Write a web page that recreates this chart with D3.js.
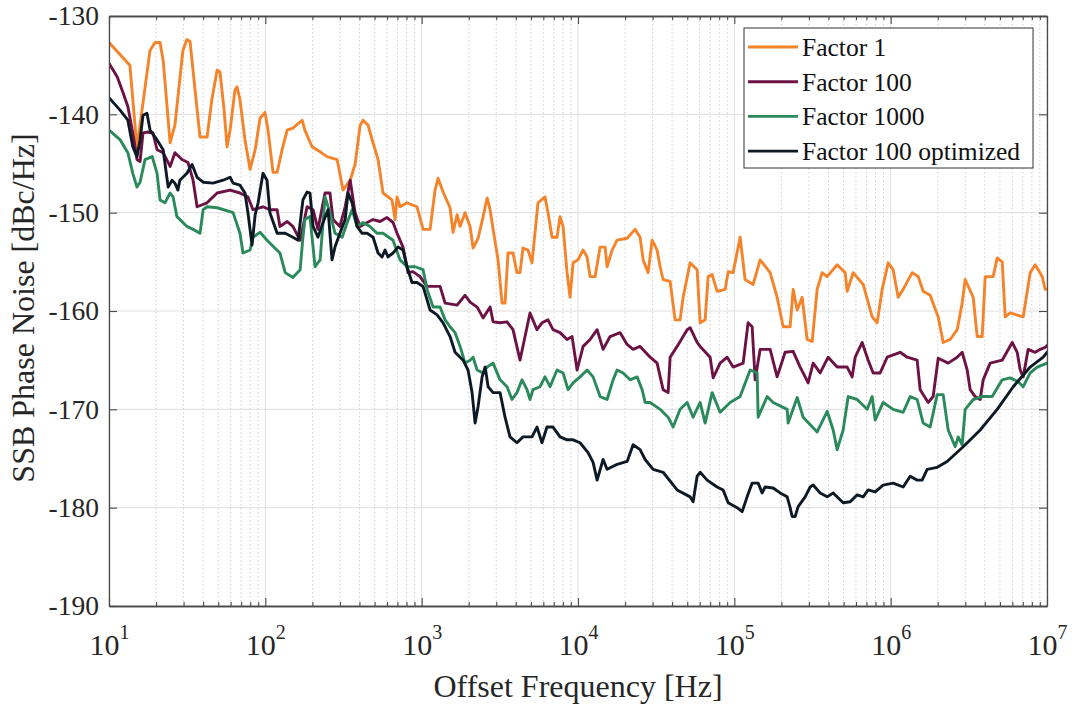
<!DOCTYPE html>
<html><head><meta charset="utf-8">
<script src="https://cdn.jsdelivr.net/npm/d3@7"></script>
<style>body{margin:0;background:#fff}svg{display:block}</style>
</head><body>
<svg id="c" width="1074" height="706"></svg>
<script>
// ---- data (offset frequency [Hz], SSB phase noise [dBc/Hz]) ----
const seriesNames = ["Factor 1", "Factor 100", "Factor 1000", "Factor 100 optimized"];
const seriesColors = ["#f5832a", "#6c1244", "#2b8a5b", "#0d1a26"];
const xTickExponents = [1, 2, 3, 4, 5, 6, 7];
const yTickValues = [-190, -180, -170, -160, -150, -140, -130];

const factor1 = [[10,-132.7],[13.6,-135.0],[15.1,-143.4],[18.3,-133.5],[19.7,-132.7],[21.2,-132.7],[22.2,-134.5],[24.6,-142.9],[26.4,-141.1],[29.7,-133.5],[31.5,-132.4],[33.0,-132.6],[35.5,-137.5],[38.2,-142.3],[42.4,-142.3],[45.5,-138.5],[49.2,-135.5],[51.3,-135.7],[54.5,-139.6],[56.9,-143.3],[59.5,-141.6],[64.0,-137.5],[65.9,-137.2],[68.8,-138.5],[74.1,-142.6],[79.9,-145.6],[86.1,-143.6],[92.5,-140.4],[99.6,-139.8],[104,-141.6],[112,-145.9],[119,-145.9],[128,-143.6],[138,-141.6],[150,-141.4],[172,-140.6],[179,-141.6],[199,-143.3],[224,-143.8],[248,-144.3],[288,-144.6],[314,-147.7],[349,-146.7],[375,-145.1],[404,-141.1],[422,-140.6],[454,-141.1],[489,-142.9],[526,-144.6],[566,-148.0],[646,-148.7],[676,-150.7],[696,-148.4],[727,-149.4],[806,-149.0],[934,-149.4],[1021,-151.7],[1132,-151.7],[1218,-147.7],[1273,-146.5],[1371,-147.9],[1519,-149.5],[1588,-152.0],[1685,-150.2],[1761,-151.4],[1895,-150.0],[2040,-151.4],[2133,-153.6],[2296,-152.6],[2473,-150.4],[2622,-148.5],[2741,-149.7],[2864,-151.7],[3081,-154.8],[3267,-159.2],[3414,-159.2],[3568,-154.1],[3839,-154.1],[4069,-156.1],[4257,-156.1],[4449,-153.6],[4788,-153.8],[5077,-155.1],[5306,-152.1],[5546,-149.0],[6152,-148.4],[6430,-150.0],[6820,-152.5],[7342,-152.5],[7676,-150.4],[8025,-151.4],[8512,-156.1],[8897,-158.6],[9300,-155.1],[10000,-154.8],[10780,-153.8],[11430,-154.5],[11950,-156.5],[12870,-156.5],[13850,-153.5],[14910,-153.5],[15350,-155.5],[16530,-153.8],[17790,-152.8],[20620,-152.6],[23190,-151.7],[24960,-152.5],[26100,-154.8],[28090,-156.1],[29800,-152.8],[32070,-153.8],[33520,-155.5],[35030,-156.8],[38840,-157.0],[41810,-160.9],[45000,-160.9],[47040,-158.6],[52140,-155.1],[57810,-155.8],[60420,-161.2],[65050,-160.9],[67990,-156.5],[72100,-156.3],[77600,-158.0],[87400,-157.8],[91300,-156.0],[98200,-156.1],[108900,-152.5],[117200,-156.8],[131900,-157.3],[146300,-154.8],[169400,-156.1],[187800,-158.6],[205200,-161.6],[227500,-161.6],[237800,-157.8],[252300,-159.9],[271500,-158.6],[292300,-162.9],[314700,-163.1],[338700,-157.8],[364600,-156.1],[392500,-156.5],[454700,-155.3],[511600,-156.1],[526900,-158.0],[575600,-156.1],[667100,-157.3],[761300,-160.6],[819600,-161.2],[882200,-157.8],[963800,-155.1],[1.037e6,-155.8],[1.117e6,-158.6],[1.202e6,-157.8],[1.373e6,-156.1],[1.5e6,-156.5],[1.614e6,-158.0],[1.789e6,-158.4],[2.014e6,-160.6],[2.167e6,-163.2],[2.403e6,-162.9],[2.664e6,-161.9],[2.867e6,-159.2],[2.997e6,-156.8],[3.372e6,-158.6],[3.577e6,-162.6],[3.85e6,-162.6],[4.024e6,-156.5],[4.527e6,-156.5],[4.801e6,-154.6],[5.17e6,-155.0],[5.404e6,-160.6],[5.816e6,-160.2],[7.043e6,-160.6],[7.806e6,-156.1],[8.405e6,-155.3],[9.318e6,-156.5],[9.739e6,-157.8],[1e7,-157.8]];

const factor100 = [[10,-134.8],[11.3,-136.2],[12.3,-137.8],[13.2,-139.2],[14.2,-141.9],[15.1,-144.6],[15.8,-144.8],[16.5,-141.9],[17.5,-141.8],[19.1,-141.9],[20.3,-143.6],[22.2,-143.9],[24.6,-145.3],[26.4,-143.9],[29.3,-144.6],[32.0,-144.9],[34.5,-146.7],[36.6,-149.4],[42.4,-149.0],[49.2,-148.0],[59.5,-147.7],[68.8,-148.0],[77.4,-148.4],[83.4,-149.7],[96.6,-149.4],[107,-149.7],[119,-149.7],[124,-151.4],[138,-150.9],[150,-151.4],[167,-152.8],[185,-149.4],[202,-149.7],[217,-151.7],[241,-148.0],[259,-148.0],[271,-150.7],[300,-151.4],[324,-149.4],[349,-146.7],[375,-150.0],[404,-151.4],[448,-151.0],[489,-150.7],[542,-150.9],[600,-150.5],[656,-151.0],[696,-152.1],[760,-153.5],[818,-156.1],[880,-156.0],[976,-156.5],[1083,-157.5],[1311,-157.5],[1412,-159.2],[1685,-159.4],[1895,-158.4],[2040,-159.1],[2263,-159.6],[2473,-160.7],[2741,-159.6],[2864,-161.1],[3173,-161.2],[3516,-161.1],[3839,-161.9],[4257,-165.0],[4583,-162.6],[4931,-160.2],[5465,-161.9],[5882,-161.2],[6430,-160.9],[6922,-161.9],[7676,-162.2],[8512,-162.9],[9163,-162.6],[9868,-166.0],[10780,-163.6],[11950,-162.9],[13250,-161.9],[14470,-163.9],[16040,-162.6],[18590,-162.2],[20620,-163.4],[22520,-163.9],[24960,-163.6],[28930,-164.7],[32070,-165.3],[35030,-168.0],[37710,-168.3],[38840,-164.7],[43060,-163.6],[49890,-161.9],[52140,-161.7],[57810,-163.2],[60420,-163.6],[70000,-164.7],[73200,-166.8],[81100,-165.3],[90000,-164.7],[98200,-165.7],[113900,-165.3],[122500,-161.2],[130000,-161.6],[135900,-167.0],[146300,-163.9],[169400,-163.9],[187800,-166.7],[211300,-164.2],[237800,-164.1],[263600,-165.7],[283800,-166.7],[296600,-167.3],[319300,-165.3],[354000,-166.3],[398300,-164.7],[454700,-165.7],[526900,-165.7],[567200,-166.7],[592900,-164.7],[657300,-163.2],[718000,-165.0],[772700,-166.3],[856600,-166.3],[949700,-164.7],[1.15e6,-164.2],[1.275e6,-164.7],[1.477e6,-165.0],[1.544e6,-168.0],[1.738e6,-169.3],[1.87e6,-168.7],[2.014e6,-164.8],[2.333e6,-165.3],[2.664e6,-164.7],[2.867e6,-164.2],[3.087e6,-166.0],[3.226e6,-168.0],[3.473e6,-168.7],[3.738e6,-169.0],[3.907e6,-167.0],[4.331e6,-165.3],[5.17e6,-165.0],[5.99e6,-163.2],[6.447e6,-164.2],[6.739e6,-166.0],[7.043e6,-166.7],[7.579e6,-163.9],[8.405e6,-164.2],[9.047e6,-163.9],[9.739e6,-163.7],[1e7,-163.5]];

const factor1000 = [[10,-141.6],[11.8,-142.6],[13.2,-143.9],[14.2,-146.0],[15.1,-147.4],[15.8,-146.9],[17.0,-144.6],[18.9,-144.3],[20.3,-146.0],[21.2,-148.7],[22.8,-149.0],[24.6,-148.0],[25.7,-148.4],[27.2,-150.4],[31.5,-151.4],[34.5,-151.7],[38.2,-152.1],[40.0,-149.7],[42.4,-149.4],[49.2,-149.5],[62.2,-150.0],[68.8,-152.1],[72.0,-154.1],[79.9,-153.8],[83.4,-152.5],[92.5,-152.0],[102.5,-152.8],[124,-154.1],[134,-156.1],[150,-156.6],[167,-155.8],[174,-152.5],[179,-150.7],[193,-150.4],[208,-155.5],[224,-154.8],[241,-148.4],[259,-150.0],[279,-152.1],[310,-152.5],[334,-151.0],[359,-149.7],[386,-151.4],[422,-151.0],[467,-151.4],[518,-152.1],[566,-152.1],[656,-152.8],[727,-154.8],[806,-155.5],[907,-155.5],[1021,-155.8],[1083,-157.8],[1183,-159.6],[1311,-159.6],[1412,-160.9],[1519,-161.6],[1636,-162.2],[1761,-163.6],[1895,-165.3],[2040,-165.0],[2133,-164.7],[2263,-166.0],[2473,-166.3],[2622,-165.7],[2864,-165.3],[3173,-167.0],[3516,-167.7],[3783,-169.0],[4069,-168.3],[4384,-167.0],[4720,-168.0],[4931,-169.0],[5153,-168.0],[5711,-167.7],[6152,-166.7],[6622,-167.7],[7342,-166.0],[8025,-166.3],[8639,-168.0],[9300,-167.3],[10310,-166.7],[11430,-166.0],[12490,-166.7],[13850,-168.7],[15350,-169.0],[16770,-167.0],[17790,-166.0],[19430,-166.3],[21540,-167.0],[23880,-166.7],[25720,-168.0],[26880,-169.3],[28930,-169.3],[33520,-170.0],[37710,-170.8],[40600,-171.8],[45000,-170.0],[49890,-169.3],[54500,-170.8],[60420,-169.3],[65050,-171.4],[72100,-168.3],[81100,-170.3],[94000,-169.3],[108900,-168.7],[126200,-166.0],[139900,-166.3],[142000,-170.8],[162100,-168.7],[177100,-169.3],[217700,-170.0],[220900,-171.4],[252300,-168.8],[275500,-170.8],[338700,-172.3],[392500,-170.2],[428700,-172.1],[454700,-174.1],[496700,-172.1],[534700,-168.7],[610600,-169.0],[707500,-170.0],[761300,-168.7],[795800,-171.1],[895400,-169.3],[1.037e6,-170.0],[1.202e6,-170.3],[1.333e6,-168.7],[1.477e6,-169.0],[1.614e6,-171.4],[1.789e6,-171.8],[1.984e6,-168.5],[2.167e6,-168.5],[2.333e6,-172.1],[2.587e6,-173.8],[2.703e6,-172.8],[2.867e6,-173.6],[2.997e6,-170.0],[3.372e6,-169.0],[3.85e6,-168.7],[4.461e6,-168.7],[5.17e6,-167.0],[5.816e6,-166.8],[6.543e6,-167.2],[7.043e6,-167.7],[7.806e6,-166.3],[8.657e6,-165.7],[1e7,-165.3]];

const factor100opt = [[10,-138.3],[11.8,-139.6],[13.2,-140.6],[14.2,-143.3],[15.1,-144.3],[15.8,-142.6],[16.5,-140.1],[17.5,-139.9],[18.3,-141.6],[20.3,-142.6],[22.2,-143.6],[23.9,-147.4],[25.3,-146.7],[26.4,-147.0],[27.6,-147.7],[28.4,-146.7],[31.5,-146.0],[34.0,-145.1],[36.6,-146.4],[40.0,-146.9],[46.3,-147.0],[53.7,-146.7],[59.5,-146.4],[62.2,-147.0],[68.8,-147.2],[74.1,-148.0],[77.4,-150.0],[82.2,-153.3],[86.1,-150.2],[89.9,-149.0],[96.6,-146.0],[102.5,-146.7],[107,-150.0],[119,-152.1],[134,-152.1],[150,-152.5],[162,-152.8],[174,-148.7],[185,-147.9],[193,-148.0],[202,-151.4],[217,-152.5],[234,-151.0],[252,-149.7],[267,-154.8],[279,-153.5],[300,-152.1],[324,-150.7],[338,-148.0],[359,-149.0],[386,-151.4],[416,-152.1],[448,-152.1],[489,-152.5],[526,-154.1],[558,-154.5],[583,-153.8],[609,-154.5],[656,-154.1],[706,-153.5],[760,-153.8],[806,-155.5],[867,-157.1],[934,-157.1],[1021,-157.5],[1132,-159.9],[1255,-160.4],[1371,-161.2],[1519,-162.6],[1636,-164.2],[1840,-165.0],[1980,-166.0],[2101,-168.3],[2197,-171.4],[2296,-169.7],[2436,-166.7],[2547,-165.7],[2661,-167.7],[2864,-168.3],[3173,-168.3],[3414,-170.8],[3674,-172.8],[4069,-173.4],[4449,-172.8],[5077,-172.8],[5465,-171.8],[5882,-173.4],[6336,-171.8],[6922,-171.8],[7676,-172.8],[8512,-173.1],[9300,-173.1],[10310,-173.4],[11600,-174.4],[12490,-175.4],[13250,-177.2],[14470,-175.1],[15350,-176.1],[17790,-175.6],[20620,-175.3],[22520,-173.6],[24960,-174.1],[26880,-175.1],[30240,-176.1],[35030,-176.4],[43060,-178.2],[52140,-178.9],[54500,-179.4],[57810,-176.8],[60420,-176.4],[66990,-177.2],[77600,-177.9],[84800,-178.2],[91300,-179.5],[104200,-180.0],[112200,-180.4],[120700,-178.9],[130000,-177.5],[142000,-177.5],[150600,-178.5],[157400,-177.9],[177100,-178.0],[196300,-178.5],[217700,-178.9],[227500,-180.0],[234300,-180.9],[244900,-180.9],[256000,-179.9],[283800,-178.9],[305500,-177.9],[319300,-177.7],[354000,-178.5],[392500,-178.9],[428700,-178.5],[496700,-179.5],[550700,-179.4],[610600,-178.7],[667100,-178.9],[718000,-178.2],[795800,-178.4],[895400,-177.7],[1.037e6,-177.5],[1.202e6,-177.9],[1.333e6,-176.8],[1.477e6,-177.2],[1.59e6,-177.2],[1.712e6,-176.1],[1.984e6,-175.9],[2.298e6,-175.3],[2.91e6,-173.8],[3.738e6,-172.1],[4.801e6,-170.0],[6.079e6,-167.7],[7.806e6,-165.7],[9.456e6,-164.7],[1e7,-164.2]];

const seriesData = [factor1, factor100, factor1000, factor100opt];

// ---- layout ----
const svg = d3.select("#c");
const L = 109, R = 1047, T = 16, B = 606;
const font = "'Liberation Serif','Times New Roman',Times,serif";
const textCol = "#262626", axisCol = "#4a4a4a";

const xMajors = xTickExponents.map(e => Math.pow(10, e));
const xMinors = [];
for (let e = 1; e < 7; e++) for (let k = 2; k <= 9; k++) xMinors.push(k * Math.pow(10, e));

const x = d3.scaleLog().domain([10, 1e7]).range([L, R]);
const y = d3.scaleLinear().domain([-190, -130]).range([B, T]);

svg.append("rect").attr("width", 1074).attr("height", 706).attr("fill", "#fff");

// grid
const grid = svg.append("g");
grid.selectAll(".mnx").data(xMinors).enter().append("line")
  .attr("x1", d => x(d)).attr("x2", d => x(d)).attr("y1", T).attr("y2", B)
  .attr("stroke", "#cfcfcf").attr("stroke-width", 1).attr("stroke-dasharray", "1.5,2.5");
grid.selectAll(".mjx").data(xMajors).enter().append("line")
  .attr("x1", d => x(d)).attr("x2", d => x(d)).attr("y1", T).attr("y2", B)
  .attr("stroke", "#dedede").attr("stroke-width", 1);
grid.selectAll(".mjy").data(yTickValues).enter().append("line")
  .attr("x1", L).attr("x2", R).attr("y1", d => y(d)).attr("y2", d => y(d))
  .attr("stroke", "#dedede").attr("stroke-width", 1);

// lines
svg.append("clipPath").attr("id", "clip").append("rect")
  .attr("x", L).attr("y", T).attr("width", R - L).attr("height", B - T);
const line = d3.line().x(d => x(d[0])).y(d => y(d[1]));
const lg = svg.append("g").attr("clip-path", "url(#clip)");
seriesData.forEach((s, i) => {
  lg.append("path").datum(s).attr("d", line).attr("fill", "none")
    .attr("stroke", seriesColors[i]).attr("stroke-width", 2.9)
    .attr("stroke-linejoin", "round").attr("stroke-linecap", "round");
});

// axes
function styleAxis(g) {
  g.selectAll("path.domain").attr("stroke", axisCol).attr("stroke-width", 1.3);
  g.selectAll(".tick line").attr("stroke", axisCol).attr("stroke-width", 1.1);
  g.selectAll("text").attr("fill", textCol).attr("font-family", font);
}
const xb = svg.append("g").attr("transform", `translate(0,${B})`)
  .call(d3.axisBottom(x).tickValues(xMajors).tickSizeInner(-8).tickSizeOuter(0).tickPadding(20).tickFormat(() => ""));
const xbm = svg.append("g").attr("transform", `translate(0,${B})`)
  .call(d3.axisBottom(x).tickValues(xMinors).tickSizeInner(-4).tickSizeOuter(0).tickFormat(() => ""));
const xt = svg.append("g").attr("transform", `translate(0,${T})`)
  .call(d3.axisTop(x).tickValues(xMajors).tickSizeInner(-8).tickSizeOuter(0).tickFormat(() => ""));
const xtm = svg.append("g").attr("transform", `translate(0,${T})`)
  .call(d3.axisTop(x).tickValues(xMinors).tickSizeInner(-4).tickSizeOuter(0).tickFormat(() => ""));
const yl = svg.append("g").attr("transform", `translate(${L},0)`)
  .call(d3.axisLeft(y).tickValues(yTickValues).tickSizeInner(-8).tickSizeOuter(0).tickPadding(10).tickFormat(d => String(d)));
const yr = svg.append("g").attr("transform", `translate(${R},0)`)
  .call(d3.axisRight(y).tickValues(yTickValues).tickSizeInner(-8).tickSizeOuter(0).tickFormat(() => ""));
[xb, xbm, xt, xtm, yl, yr].forEach(styleAxis);
yl.selectAll("text").attr("font-size", 27.5).attr("x", -10);

// x tick labels 10^n
xb.selectAll(".tick").each(function(d) {
  const e = Math.round(Math.log10(d));
  const t = d3.select(this).select("text");
  t.text(null).attr("font-size", 30).attr("y", 49).attr("dy", null).attr("text-anchor", "middle");
  t.append("tspan").text("10");
  t.append("tspan").attr("font-size", 20).attr("dy", -16).text(String(e));
});

// axis titles
svg.append("text").attr("x", (L + R) / 2).attr("y", 697).attr("text-anchor", "middle")
  .attr("font-family", font).attr("font-size", 32).attr("fill", textCol).text("Offset Frequency [Hz]");
svg.append("text").attr("transform", "translate(34,308) rotate(-90)").attr("text-anchor", "middle")
  .attr("font-family", font).attr("font-size", 32).attr("fill", textCol).text("SSB Phase Noise [dBc/Hz]");

// legend
const leg = svg.append("g");
leg.append("rect").attr("x", 744).attr("y", 28).attr("width", 289).attr("height", 140)
  .attr("fill", "#fff").attr("stroke", "#333").attr("stroke-width", 1);
seriesNames.forEach((n, i) => {
  const yy = 47 + i * 34.7;
  leg.append("line").attr("x1", 748).attr("x2", 798).attr("y1", yy).attr("y2", yy)
    .attr("stroke", seriesColors[i]).attr("stroke-width", 2.9);
  leg.append("text").attr("x", 802).attr("y", yy + 9).attr("font-family", font)
    .attr("font-size", 25.5).attr("fill", "#111").text(n);
});
</script>
</body></html>
